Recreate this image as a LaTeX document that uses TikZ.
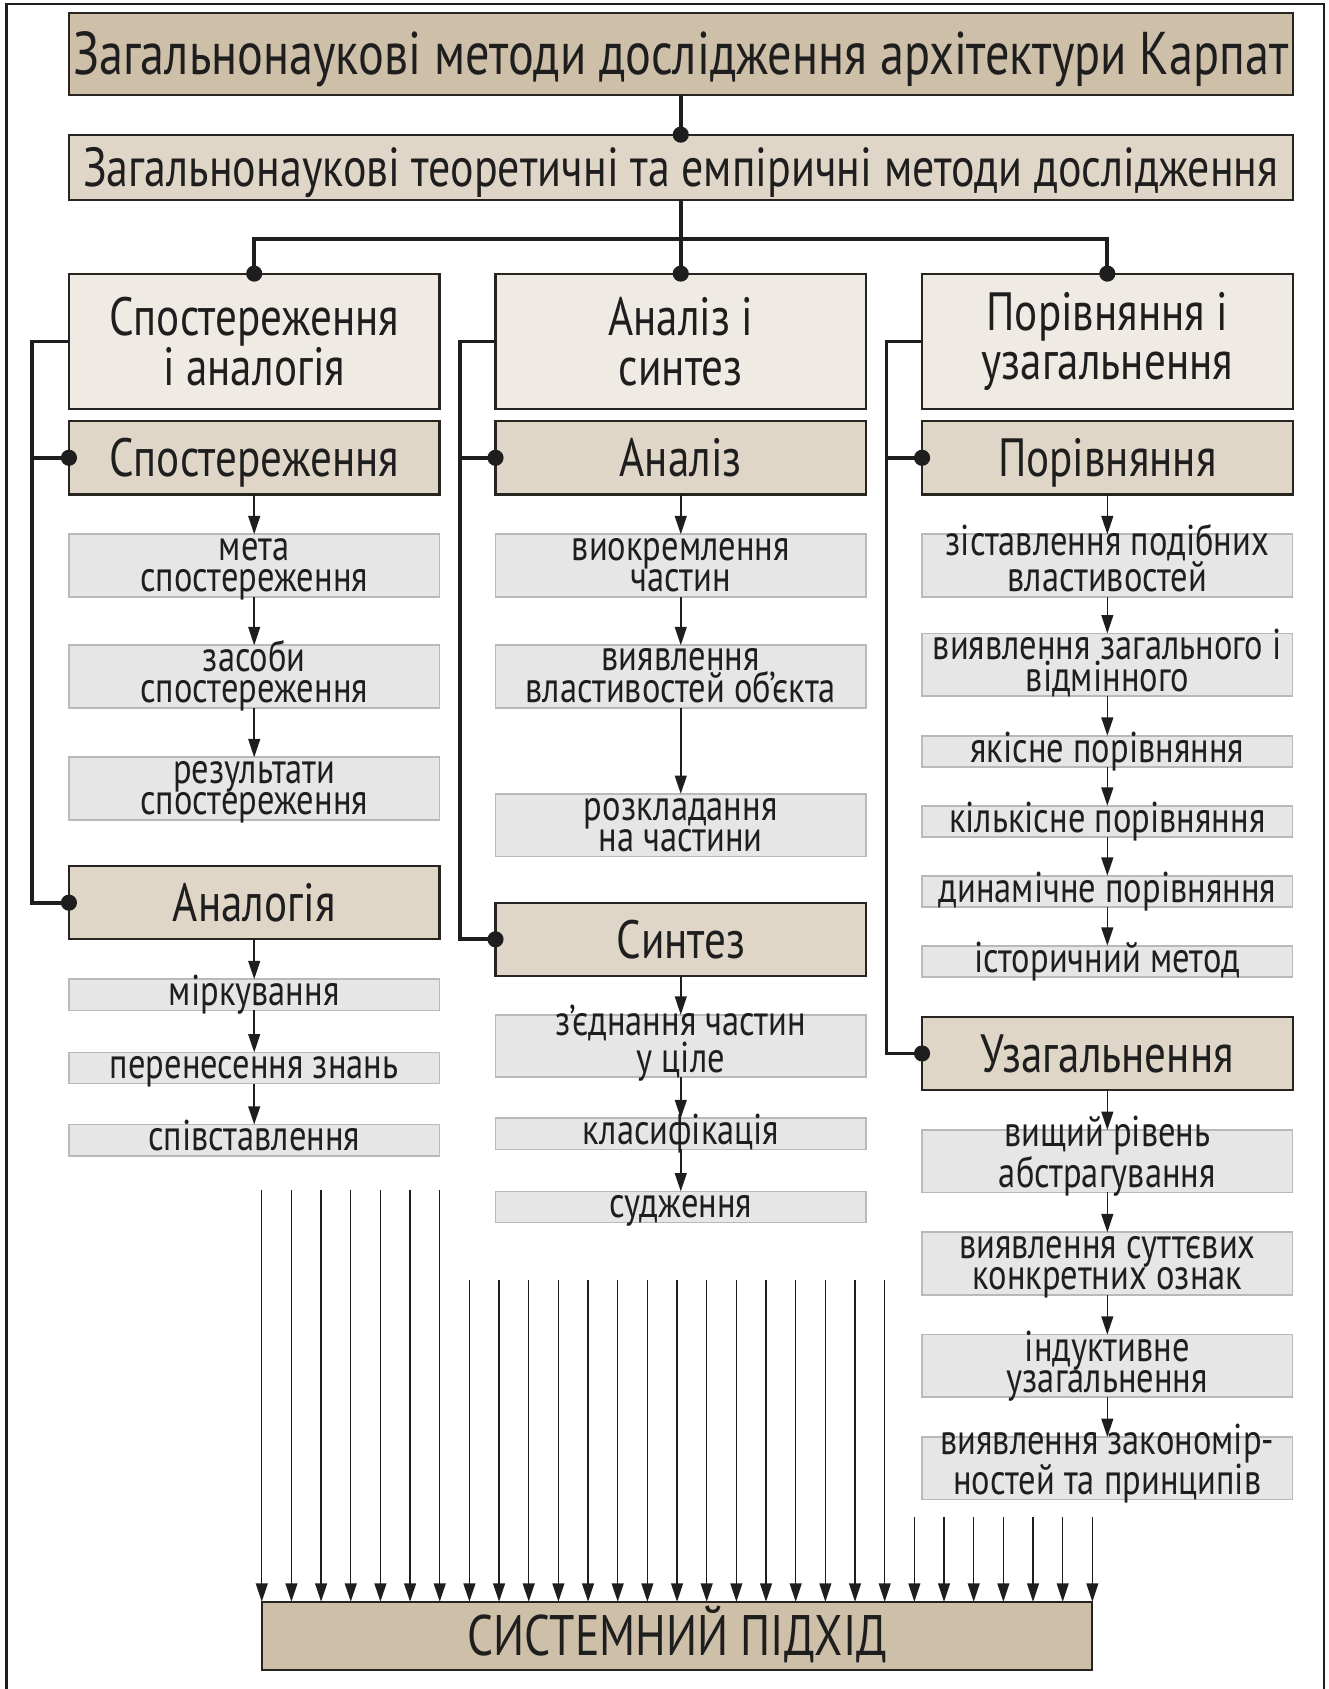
\documentclass[tikz,border=0pt]{standalone}
\usepackage{fontspec}
\setmainfont{PT Sans}[FakeStretch=0.8]
\usetikzlibrary{arrows.meta,chains,positioning,scopes}

\definecolor{ink}{RGB}{30,30,30}
\definecolor{edge}{RGB}{40,36,32}
\definecolor{tanDark}{RGB}{205,191,168}
\definecolor{tanLight}{RGB}{224,214,200}
\definecolor{tanPale}{RGB}{240,234,228}
\definecolor{itemFill}{RGB}{230,230,230}
\definecolor{itemEdge}{RGB}{185,185,185}

\begin{document}
\begin{tikzpicture}[
                x=1pt, y=-1pt,
                node distance = 37pt,
                Block/.style={draw=edge, line width=2pt, inner sep=0pt, outer sep=0pt, align=center, text=ink},
                TitleBlock/.style={Block, fill=tanDark, minimum width=1136pt, minimum height=76pt, font=\fontsize{56}{60}\selectfont, text height=39pt, text depth=0pt},
                MethodBlock/.style={Block, fill=tanLight, minimum width=1136pt, minimum height=61pt, font=\fontsize{51}{56}\selectfont, text height=36pt, text depth=0pt},
                HeadBlock/.style={Block, fill=tanPale, minimum width=344pt, minimum height=126pt, font=\fontsize{50}{46}\selectfont, on chain},
                SubBlock/.style={Block, fill=tanLight, minimum width=344pt, minimum height=68pt, font=\fontsize{50}{56}\selectfont, text height=35pt, text depth=0pt, on chain},
                ItemBlock/.style={Block, draw=itemEdge, line width=1.5pt, fill=itemFill, minimum width=344pt, minimum height=58pt, font=\fontsize{40}{29}\selectfont, text height=49pt, text depth=0pt, on chain},
                LineBlock/.style={ItemBlock, minimum height=29pt, text height=20pt, text depth=0pt},
                SysBlock/.style={Block, fill=tanDark, minimum width=771pt, minimum height=63pt, font=\fontsize{53}{56}\selectfont, text height=36pt, text depth=0pt},
                Bus/.style={draw=ink, line width=3.5pt},
                Dot/.style={circle, fill=ink, inner sep=0pt, minimum size=15pt},
                Flow/.style={draw=ink, line width=1.5pt, -{Triangle[length=17pt, width=11pt]}},
                Feed/.style={draw=ink, line width=1.2pt, -{Triangle[length=17pt, width=11pt]}},
            ]
            \useasboundingbox (0,0) rectangle (1233,1568);
            \draw[ink, line width=2pt] (6,1568) -- (6,4) -- (1229,4) -- (1229,1568);

            \node [TitleBlock] (title) at (632,50) {Загальнонаукові методи дослідження архітектури Карпат};
            \node [MethodBlock] (methods) at (632,155.5) {Загальнонаукові теоретичні та емпіричні методи дослідження};

            % observation and analogy
            { [start chain = going below]
                \node [HeadBlock] (obsan) at (236,317) {Спостереження\\і аналогія};
                \node [SubBlock, yshift=26pt] (obs) {Спостереження};
                \node [ItemBlock] (goal) {мета\\спостереження};
                \node [ItemBlock, yshift=-8pt] (means) {засоби\\спостереження};
                \node [ItemBlock, yshift=-9pt] (results) {результати\\спостереження};
                \node [SubBlock, yshift=-6pt] (analogy) {Аналогія};
                \node [LineBlock] (reason) {міркування};
                \node [LineBlock, yshift=-2pt] (transfer) {перенесення знань};
                \node [LineBlock, yshift=-1pt] (collate) {співставлення};
            }

            % analysis and synthesis
            { [start chain = going below]
                \node [HeadBlock] (ansyn) at (632,317) {Аналіз і\\синтез};
                \node [SubBlock, yshift=26pt] (an) {Аналіз};
                \node [ItemBlock] (isolate) {виокремлення\\частин};
                \node [ItemBlock, yshift=-8pt] (props) {виявлення\\властивостей об’єкта};
                \node [ItemBlock, yshift=-43pt] (split) {розкладання\\на частини};
                \node [SubBlock, yshift=-6pt] (syn) {Синтез};
                \node [ItemBlock, yshift=1pt] (unite) {з’єднання частин\\у ціле};
                \node [LineBlock, yshift=-1pt] (classify) {класифікація};
                \node [LineBlock, yshift=-2pt] (judge) {судження};
            }

            % comparison and generalisation
            { [start chain = going below]
                \node [HeadBlock] (cmpgen) at (1028,317) {Порівняння і\\узагальнення};
                \node [SubBlock, yshift=26pt] (cmp) {Порівняння};
                \node [ItemBlock] (match) {зіставлення подібних\\властивостей};
                \node [ItemBlock, yshift=3pt] (common) {виявлення загального і\\відмінного};
                \node [LineBlock] (qual) {якісне порівняння};
                \node [LineBlock, yshift=1pt] (quant) {кількісне порівняння};
                \node [LineBlock, yshift=1pt] (dyn) {динамічне порівняння};
                \node [LineBlock, yshift=1pt] (hist) {історичний метод};
                \node [SubBlock] (gen) {Узагальнення};
                \node [ItemBlock] (abstr) {вищий рівень\\абстрагування};
                \node [ItemBlock] (traits) {виявлення суттєвих\\конкретних ознак};
                \node [ItemBlock] (induct) {індуктивне\\узагальнення};
                \node [ItemBlock] (laws) {виявлення закономір-\\ностей та принципів};
            }

            \node [SysBlock] (sys) at (628.5,1518.5) {СИСТЕМНИЙ ПІДХІД};

            % tree
            \draw[Bus] (title) -- (methods);
            \draw[Bus] (methods.south) -- ++(0,36) coordinate (fork);
            \draw[Bus] (obsan.north) |- (fork) -| (cmpgen.north);
            \draw[Bus] (fork) -- (ansyn.north);
            \draw[Bus] (obsan.west) -- ++(-34,0) coordinate (obsbus) |- (analogy.west);
            \draw[Bus] (obsbus |- obs.west) -- (obs.west);
            \draw[Bus] (ansyn.west) -- ++(-33,0) coordinate (ansbus) |- (syn.west);
            \draw[Bus] (ansbus |- an.west) -- (an.west);
            \draw[Bus] (cmpgen.west) -- ++(-33,0) coordinate (cmpbus) |- (gen.west);
            \draw[Bus] (cmpbus |- cmp.west) -- (cmp.west);
            \foreach \n in {methods.north, obsan.north, ansyn.north, cmpgen.north,
                            obs.west, analogy.west, an.west, syn.west, cmp.west, gen.west}
                \node [Dot] at (\n) {};

            \foreach \a/\b in {obs/goal, goal/means, means/results, analogy/reason, reason/transfer, transfer/collate,
                               an/isolate, isolate/props, props/split, syn/unite, unite/classify, classify/judge,
                               cmp/match, match/common, common/qual, qual/quant, quant/dyn, dyn/hist,
                               gen/abstr, abstr/traits, traits/induct, induct/laws}
                \draw[Flow] (\a) -- (\b);

            % feeds into the system approach
            \foreach \i in {0,...,28} {
                \pgfmathsetmacro{\xx}{243+27.54*\i}
                \pgfmathsetmacro{\ys}{\i<7 ? 1105 : (\i<22 ? 1188 : 1408)}
                \coordinate (feed\i) at (\xx,\ys);
                \draw[Feed] (feed\i) -- (feed\i |- sys.north);
            }
        \end{tikzpicture}
\end{document}
